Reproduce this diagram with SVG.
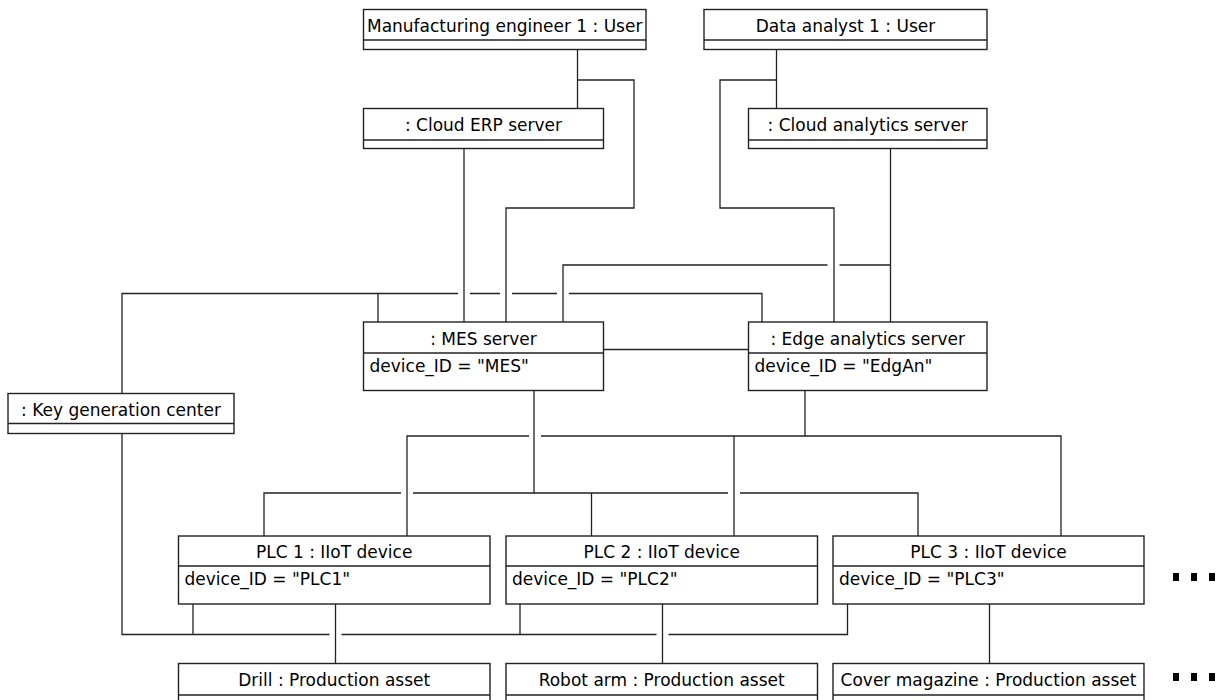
<svg xmlns="http://www.w3.org/2000/svg" width="1219" height="700" viewBox="0 0 1219 700">
<style>
.box{fill:#fff;stroke:#222;stroke-width:1.4}
.div{stroke:#222;stroke-width:1.4}
.t{font-family:"DejaVu Sans",sans-serif;font-size:17px;fill:#000;text-anchor:middle}
.a{font-family:"DejaVu Sans",sans-serif;font-size:17px;fill:#000}
.c{fill:none;stroke:#222;stroke-width:1.3}
.dot{fill:#000}
</style>
<rect width="1219" height="700" fill="#fff"/>
<g id="connectors" class="c">
<path d="M577.5,49.5V108.5"/>
<path d="M577.5,80H634V208H506V322"/>
<path d="M464,148.5V322"/>
<path d="M776.5,49.5V108.5"/>
<path d="M776.5,80H720V208H834V322"/>
<path d="M890.5,148.5V322"/>
<path d="M890.5,265H839.5M827.5,265H563V322"/>
<path d="M122,393.5V293.5H458M470,293.5H500M512,293.5H557M569,293.5H762V322"/>
<path d="M378,293.5V322"/>
<path d="M603.5,349.5H748.5"/>
<path d="M805,390.5V436H541M529,436H407V536"/>
<path d="M805,436H1061V536"/>
<path d="M734,436V536"/>
<path d="M534,390.5V493H413M401,493H264V536"/>
<path d="M534,493H728M740,493H918V536"/>
<path d="M591.5,493V536"/>
<path d="M122,433.5V634.5H329.5M341.5,634.5H656.5M668.5,634.5H847.5V604"/>
<path d="M193,634.5V604"/>
<path d="M520,634.5V604"/>
<path d="M335.5,604V663.5"/>
<path d="M662.5,604V663.5"/>
<path d="M989.5,604V663.5"/>
</g>
<g id="me">
<rect class="box" x="363.5" y="9.5" width="282.5" height="40"/>
<line class="div" x1="363.5" y1="40" x2="646" y2="40"/>
<text class="t" x="504.7" y="31.5">Manufacturing engineer 1 : User</text>
</g>
<g id="da">
<rect class="box" x="704" y="9.5" width="283" height="40"/>
<line class="div" x1="704" y1="40" x2="987" y2="40"/>
<text class="t" x="845.5" y="31.5">Data analyst 1 : User</text>
</g>
<g id="erp">
<rect class="box" x="363.5" y="108.5" width="240" height="40"/>
<line class="div" x1="363.5" y1="140" x2="603.5" y2="140"/>
<text class="t" x="483.5" y="130.5">: Cloud ERP server</text>
</g>
<g id="ca">
<rect class="box" x="748.5" y="108.5" width="238.5" height="40"/>
<line class="div" x1="748.5" y1="140" x2="987" y2="140"/>
<text class="t" x="867.7" y="130.5">: Cloud analytics server</text>
</g>
<g id="mes">
<rect class="box" x="363.5" y="322" width="240" height="68.5"/>
<line class="div" x1="363.5" y1="353" x2="603.5" y2="353"/>
<text class="t" x="483.5" y="344.5">: MES server</text>
<text class="a" x="369.5" y="371.5">device_ID = "MES"</text>
</g>
<g id="edge">
<rect class="box" x="748.5" y="322" width="238.5" height="68.5"/>
<line class="div" x1="748.5" y1="353" x2="987" y2="353"/>
<text class="t" x="867.7" y="344.5">: Edge analytics server</text>
<text class="a" x="754.5" y="371.5">device_ID = "EdgAn"</text>
</g>
<g id="kgc">
<rect class="box" x="8" y="393.5" width="226" height="40"/>
<line class="div" x1="8" y1="423.5" x2="234" y2="423.5"/>
<text class="t" x="121" y="415.5">: Key generation center</text>
</g>
<g id="plc1">
<rect class="box" x="178.5" y="536" width="311.5" height="68"/>
<line class="div" x1="178.5" y1="566" x2="490" y2="566"/>
<text class="t" x="334.2" y="557.5">PLC 1 : IIoT device</text>
<text class="a" x="184.5" y="584.5">device_ID = "PLC1"</text>
</g>
<g id="plc2">
<rect class="box" x="506" y="536" width="311.5" height="68"/>
<line class="div" x1="506" y1="566" x2="817.5" y2="566"/>
<text class="t" x="661.7" y="557.5">PLC 2 : IIoT device</text>
<text class="a" x="512" y="584.5">device_ID = "PLC2"</text>
</g>
<g id="plc3">
<rect class="box" x="833" y="536" width="311" height="68"/>
<line class="div" x1="833" y1="566" x2="1144" y2="566"/>
<text class="t" x="988.5" y="557.5">PLC 3 : IIoT device</text>
<text class="a" x="839" y="584.5">device_ID = "PLC3"</text>
</g>
<g id="drill">
<rect class="box" x="178.5" y="663.5" width="311.5" height="60"/>
<line class="div" x1="178.5" y1="695" x2="490" y2="695"/>
<text class="t" x="334.2" y="686">Drill : Production asset</text>
</g>
<g id="robot">
<rect class="box" x="506" y="663.5" width="311.5" height="60"/>
<line class="div" x1="506" y1="695" x2="817.5" y2="695"/>
<text class="t" x="661.7" y="686">Robot arm : Production asset</text>
</g>
<g id="cover">
<rect class="box" x="833" y="663.5" width="311" height="60"/>
<line class="div" x1="833" y1="695" x2="1144" y2="695"/>
<text class="t" x="988.5" y="686">Cover magazine : Production asset</text>
</g>
<g id="more-plc">
<rect class="dot" x="1173" y="573" width="6" height="8"/>
<rect class="dot" x="1191" y="573" width="6" height="8"/>
<rect class="dot" x="1209" y="573" width="6" height="8"/>
</g>
<g id="more-assets">
<rect class="dot" x="1173" y="673" width="6" height="8"/>
<rect class="dot" x="1191" y="673" width="6" height="8"/>
<rect class="dot" x="1209" y="673" width="6" height="8"/>
</g>
</svg>
